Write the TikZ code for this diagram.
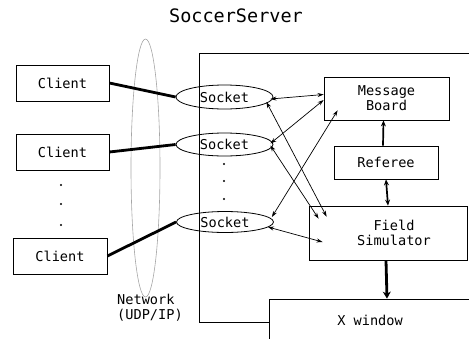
\documentclass[tikz,border=0pt]{standalone}
\usepackage{fontspec}
\setmonofont{DejaVu Sans Mono}
\usetikzlibrary{shapes.geometric,arrows.meta,calc}
\begin{document}
\begin{tikzpicture}[x=1pt,y=-1pt,
  every node/.style={font=\ttfamily\fontsize{13.6}{15}\selectfont},
  box/.style={draw,line width=0.8pt,rectangle,inner sep=0pt,align=center},
  sock/.style={draw,line width=0.8pt,ellipse,inner sep=0pt,minimum width=97pt},
  thinarr/.style={line width=0.7pt,{Stealth[length=6pt,width=4pt]}-{Stealth[length=6pt,width=4pt]}},
  link/.style={line width=2.8pt},
  mid/.style={line width=1.7pt}]
\useasboundingbox (0,0) rectangle (469,338);
\node[font=\ttfamily\fontsize{18.5}{20}\selectfont] (title) at (236,16) {SoccerServer};
% server frame
\node[box,minimum width=272pt,minimum height=269pt,anchor=north west] (server) at (199,53) {};
% network
\node[draw=gray!70,line width=0.6pt,ellipse,minimum width=29pt,minimum height=258pt,inner sep=0pt] (net) at (145.5,168) {};
\node[align=left,anchor=north west,inner sep=0pt] (netlbl) at (117,294) {Network\\(UDP/IP)};
% clients
\node[box,minimum width=93pt,minimum height=36pt] (c1) at (62.5,83) {Client};
\node[box,minimum width=93pt,minimum height=36pt] (c2) at (62.5,152) {Client};
\node[box,minimum width=94pt,minimum height=36pt] (c3) at (60,256) {Client};
\foreach \yy in {185,204,225} \fill (61,\yy) circle (1.1pt);
% sockets
\node[sock,minimum height=24pt] (s1) at (224.5,97) {Socket};
\node[sock,minimum height=23pt] (s2) at (224.5,144.5) {Socket};
\node[sock,minimum height=21pt] (s3) at (225,222) {Socket};
\foreach \yy in {164,181,199} \fill (224,\yy) circle (1.1pt);
% right boxes
\node[box,minimum width=125pt,minimum height=43pt] (mb) at (386.5,98.5) {Message\\Board};
\node[box,minimum width=104pt,minimum height=33pt] (ref) at (386,162.5) {Referee};
\node[box,minimum width=158pt,minimum height=54pt] (fs) at (388,233) {\hspace*{12pt}Field\\\hspace*{12pt}Simulator};
\node[box,fill=white,minimum width=202pt,minimum height=42pt] (xw) at (370,320) {X window};
% client links
\draw[link] (c1.east) -- (s1.west);
\draw[link] (c2.east) -- (s2.west);
\draw[link] (c3.east) -- (s3.west);
% thin arrows
\draw[thinarr] ($(s1.east)+(-3,2)$) -- ($(mb.west)+(0,-4)$);
\draw[thinarr] ($(s2.east)+(-3,-1)$) -- ($(mb.west)+(0,1.5)$);
\draw[thinarr] ($(s3.east)+(-2,-5)$) -- ($(mb.south west)+(14,-10)$);
\draw[thinarr] ($(s1.east)+(-7,5)$) -- ($(fs.north west)+(18,11)$);
\draw[thinarr] ($(s2.east)+(-3,1)$) -- ($(fs.north west)+(10,13)$);
\draw[thinarr] ($(s3.east)+(-6,5)$) -- ($(fs.west)+(14,9)$);
% thick arrows
\draw[mid,-{Stealth[length=6pt,width=5pt]}] ($(ref.north)+(-3,0)$) -- ($(mb.south)+(-3,0)$);
\draw[mid,{Stealth[length=6pt,width=5pt]}-{Stealth[length=6pt,width=5pt]}] (ref.south) -- (fs.north);
\draw[link,-{Stealth[length=7pt,width=8pt]}] ($(fs.south)+(-2,0)$) -- ($(xw.north)+(17,0)$);
\end{tikzpicture}
\end{document}
